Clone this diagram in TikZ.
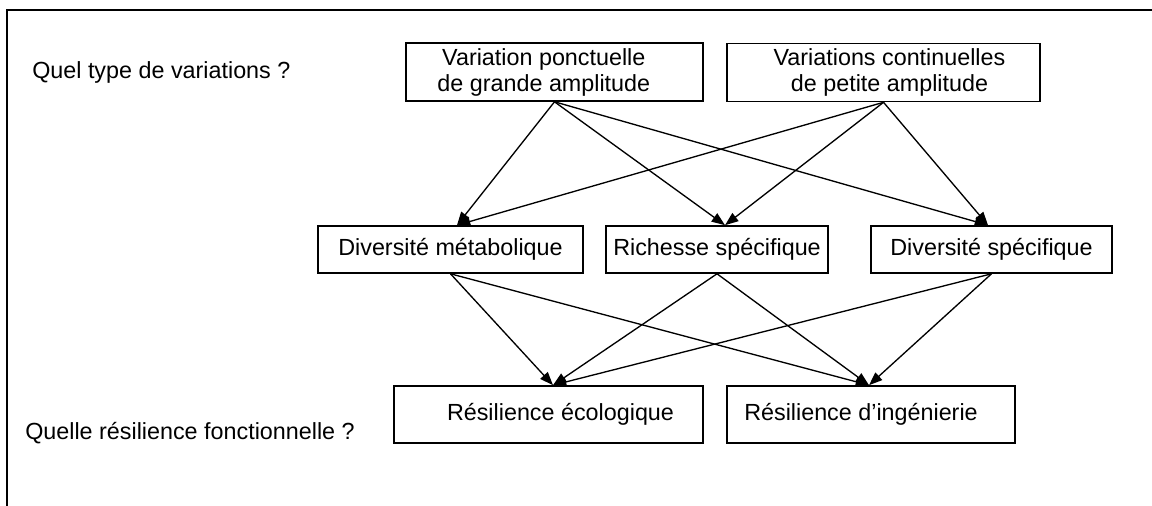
\documentclass[tikz,border=0pt]{standalone}
\usepackage{fontspec}
\setmainfont{Liberation Sans}
\usetikzlibrary{arrows.meta,calc}
\begin{document}
\begin{tikzpicture}[x=0.75pt,y=-0.75pt,
  box/.style={draw, line width=1.2pt, inner sep=0pt, align=center,
    font=\fontsize{17.5pt}{19.5pt}\selectfont},
  lbl/.style={inner sep=0pt, anchor=base west, font=\fontsize{17.5pt}{19.5pt}\selectfont},
  arr/.style={line width=1pt, -{Triangle[length=10pt,width=7.5pt]}}]
\useasboundingbox (0,0) rectangle (1152,506);
\draw[line width=1.6pt] (7,506) -- (7,10) -- (1152,10);
% labels
\node[lbl] (q1) at (32,79) {Quel type de variations ?};
\node[lbl] (q2) at (25,439) {Quelle résilience fonctionnelle ?};
% top boxes
\node[box, minimum width=297*0.75pt, minimum height=58*0.75pt] (A) at (554.5,72)
  {\hspace*{-16pt}Variation ponctuelle\\\hspace*{-16pt}de grande amplitude};
\node[box, minimum width=313*0.75pt, minimum height=58*0.75pt] (B) at (883.5,72.5)
  {\hspace*{9pt}Variations continuelles\\\hspace*{9pt}de petite amplitude};
% middle boxes
\node[box, minimum width=265*0.75pt, minimum height=47*0.75pt] (M1) at (450.5,249.5) {Diversité métabolique};
\node[box, minimum width=222*0.75pt, minimum height=47*0.75pt] (M2) at (717,249.5) {Richesse spécifique};
\node[box, minimum width=241*0.75pt, minimum height=47*0.75pt] (M3) at (991.5,249.5) {Diversité spécifique};
% bottom boxes
\node[box, minimum width=309*0.75pt, minimum height=57*0.75pt] (R1) at (548.5,414.5) {\hspace*{18pt}Résilience écologique};
\node[box, minimum width=288*0.75pt, minimum height=57*0.75pt] (R2) at (871,414.5) {Résilience d’ingénierie\hspace*{15pt}};
% target points
\coordinate (t1) at ($(M1.north)+(6.5,0)$);
\coordinate (t2) at ($(M2.north)+(8,0)$);
\coordinate (t3) at ($(M3.north)+(-3.5,0)$);
\coordinate (t4) at ($(R1.north)+(4.5,0)$);
\coordinate (t5) at ($(R2.north)+(-2,0)$);
% arrows
\draw[arr] (A.south) -- (t1);
\draw[arr] (A.south) -- (t2);
\draw[arr] (A.south) -- (t3);
\draw[arr] (B.south) -- (t1);
\draw[arr] (B.south) -- (t2);
\draw[arr] (B.south) -- (t3);
\draw[arr] (M1.south) -- (t4);
\draw[arr] (M1.south) -- (t5);
\draw[arr] (M2.south) -- (t4);
\draw[arr] (M2.south) -- (t5);
\draw[arr] (M3.south) -- (t4);
\draw[arr] (M3.south) -- (t5);
\end{tikzpicture}
\end{document}
